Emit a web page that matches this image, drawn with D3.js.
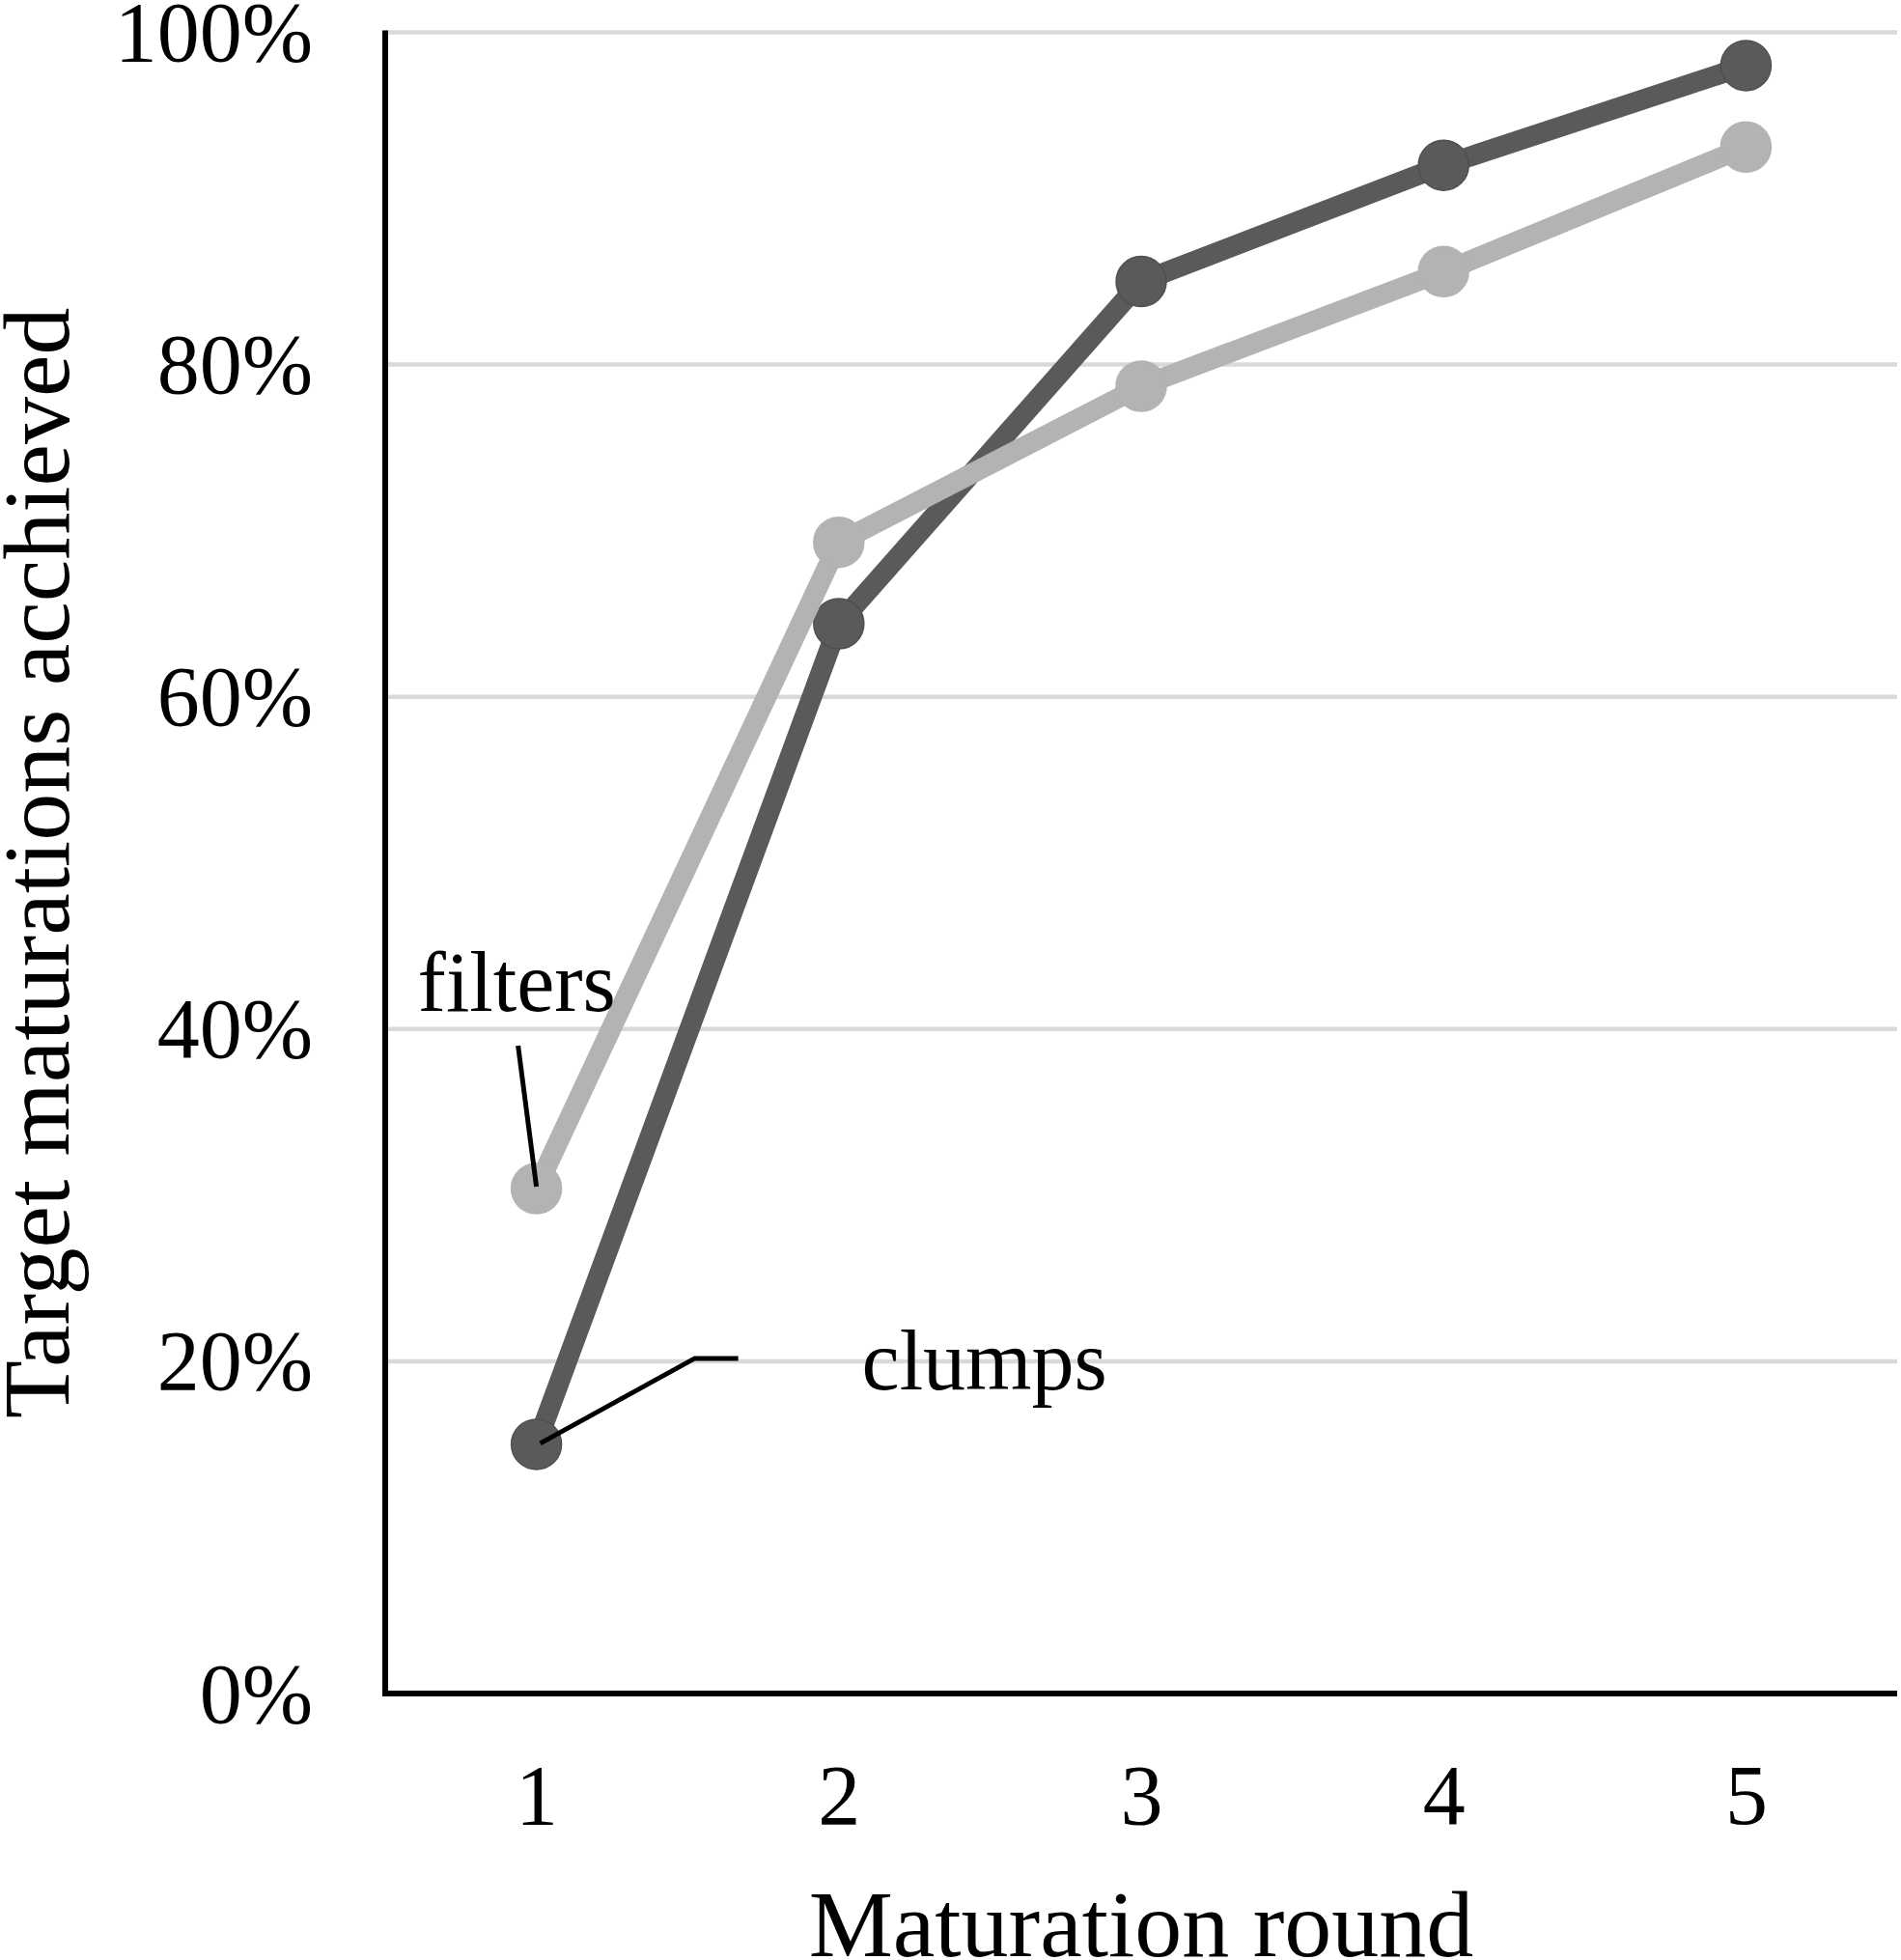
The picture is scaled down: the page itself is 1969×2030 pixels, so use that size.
<!DOCTYPE html>
<html>
<head>
<meta charset="utf-8">
<script src="https://cdn.jsdelivr.net/npm/d3@7"></script>
<style>
  html, body { margin: 0; padding: 0; background: #fff; }
  svg { display: block; }
  text { font-family: "Liberation Serif", "Times New Roman", serif; fill: #000; }
</style>
</head>
<body>
<svg id="chart" width="1969" height="2030"></svg>
<script>
const rounds = ["1", "2", "3", "4", "5"];
const clumps = [15.0, 64.4, 85.0, 92.0, 98.0];
const filters = [30.4, 69.3, 78.7, 85.6, 93.1];
const yTicks = [0, 20, 40, 60, 80, 100];
const seriesNames = ["clumps", "filters"];
const xTitle = "Maturation round";
const yTitle = "Target maturations acchieved";

const W = 1969, H = 2030;
const margin = { left: 399, right: 4, top: 33.5, bottom: 276 };
const svg = d3.select("#chart");

const x = d3.scalePoint().domain(rounds).range([margin.left, W - margin.right]).padding(0.5);
const y = d3.scaleLinear().domain([0, 100]).range([H - margin.bottom, margin.top]);

// gridlines
svg.append("g").selectAll("line")
  .data(yTicks.filter(d => d > 0))
  .join("line")
  .attr("x1", margin.left).attr("x2", W - margin.right)
  .attr("y1", d => y(d)).attr("y2", d => y(d))
  .attr("stroke", "#d9d9d9").attr("stroke-width", 4.5);

// y axis labels
const yAxis = d3.axisLeft(y).tickValues(yTicks).tickFormat(d => d + "%").tickSize(0).tickPadding(75);
const gy = svg.append("g").attr("transform", `translate(${margin.left},0)`).call(yAxis);
gy.select(".domain").remove();
gy.selectAll("text").attr("font-size", 88).attr("font-family", "Liberation Serif").attr("fill", "#000").attr("dy", "0.33em");

// x axis labels
const xAxis = d3.axisBottom(x).tickSize(0).tickPadding(72);
const gx = svg.append("g").attr("transform", `translate(0,${y(0)})`).call(xAxis);
gx.select(".domain").remove();
gx.selectAll("text").attr("font-size", 88).attr("font-family", "Liberation Serif").attr("fill", "#000").attr("dy", "0.72em");

// axis lines
svg.append("line")
  .attr("x1", margin.left).attr("x2", margin.left)
  .attr("y1", y(100) - 2).attr("y2", y(0) + 3)
  .attr("stroke", "#000").attr("stroke-width", 6);
svg.append("line")
  .attr("x1", margin.left - 3).attr("x2", W - margin.right)
  .attr("y1", y(0)).attr("y2", y(0))
  .attr("stroke", "#000").attr("stroke-width", 6);

// series
const seriesData = [
  { name: seriesNames[0], values: clumps, color: "#5a5a5a", edge: "#4f4f4f" },
  { name: seriesNames[1], values: filters, color: "#b3b3b3", edge: "#b3b3b3" }
];
const line = d3.line().x((d, i) => x(rounds[i])).y(d => y(d));
seriesData.forEach(s => {
  svg.append("path")
    .datum(s.values)
    .attr("d", line)
    .attr("fill", "none")
    .attr("stroke", s.color)
    .attr("stroke-width", 21)
    .attr("stroke-linejoin", "round");
  svg.append("g").selectAll("circle")
    .data(s.values)
    .join("circle")
    .attr("cx", (d, i) => x(rounds[i]))
    .attr("cy", d => y(d))
    .attr("r", 26)
    .attr("fill", s.color)
    .attr("stroke", s.edge)
    .attr("stroke-width", 1.5);
});

// data labels with leader lines
const cx1 = x(rounds[0]);
// filters label
svg.append("line")
  .attr("x1", cx1 - 19).attr("y1", y(filters[0]) - 148)
  .attr("x2", cx1).attr("y2", y(filters[0]) - 2)
  .attr("stroke", "#000").attr("stroke-width", 5);
svg.append("text")
  .attr("x", cx1 - 123).attr("y", y(filters[0]) - 184)
  .attr("font-size", 88)
  .text(seriesNames[1]);
// clumps label
svg.append("polyline")
  .attr("points", [[cx1 + 4, y(clumps[0]) - 1], [cx1 + 164, y(clumps[0]) - 89], [cx1 + 209, y(clumps[0]) - 89]].map(p => p.join(",")).join(" "))
  .attr("fill", "none")
  .attr("stroke", "#000").attr("stroke-width", 5);
svg.append("text")
  .attr("x", cx1 + 337).attr("y", y(clumps[0]) - 57)
  .attr("font-size", 88)
  .text(seriesNames[0]);

// axis titles
svg.append("text")
  .attr("x", (margin.left + W - margin.right) / 2)
  .attr("y", 2026)
  .attr("text-anchor", "middle")
  .attr("font-size", 98)
  .text(xTitle);
svg.append("text")
  .attr("transform", `translate(71,${(y(0) + y(100)) / 2}) rotate(-90)`)
  .attr("text-anchor", "middle")
  .attr("font-size", 98)
  .text(yTitle);
</script>
</body>
</html>
